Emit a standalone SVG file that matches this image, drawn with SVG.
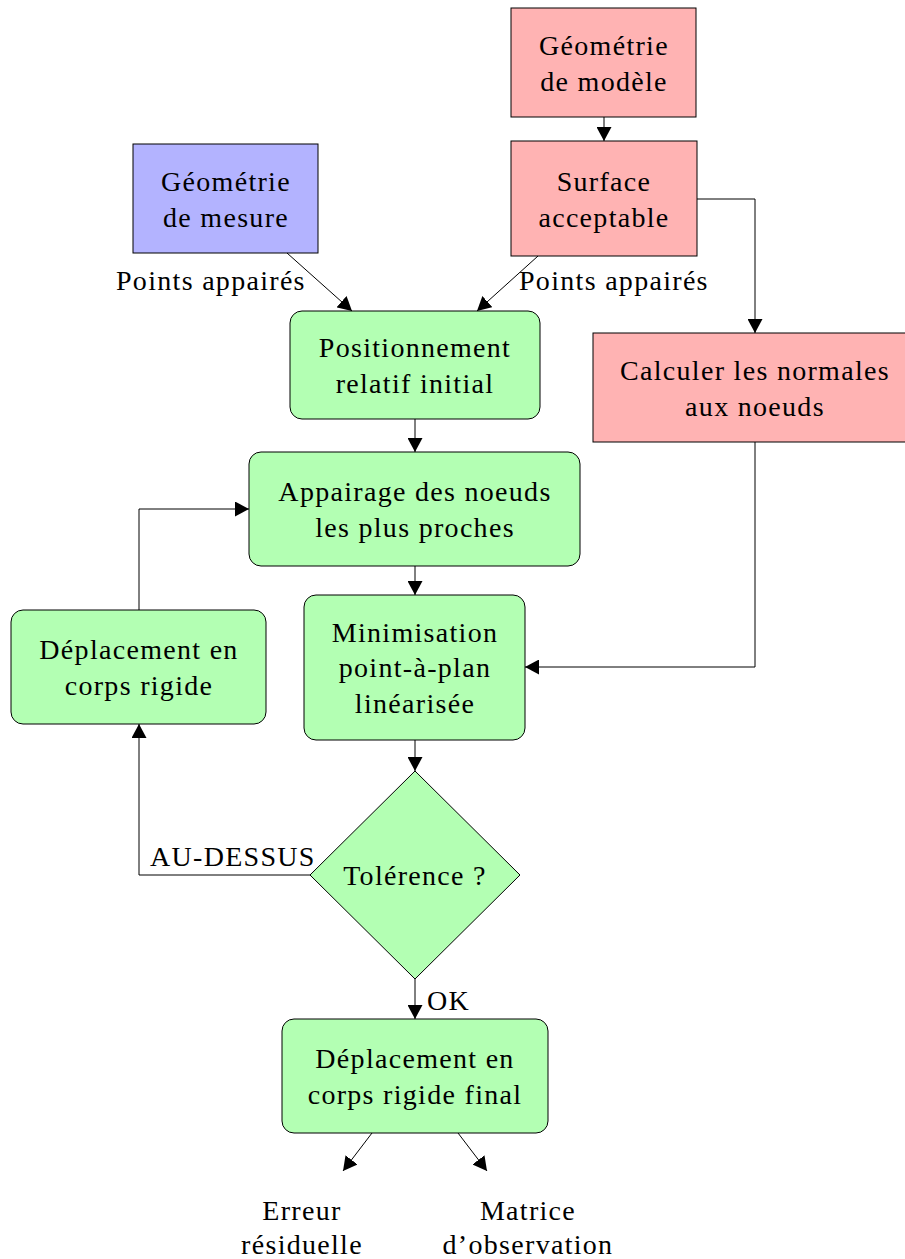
<svg xmlns="http://www.w3.org/2000/svg" width="905" height="1259" viewBox="0 0 905 1259">
<style>
text{font-family:"Liberation Serif","Times New Roman",serif;font-size:28px;letter-spacing:1.3px;fill:#000;text-anchor:middle}
.lbl{text-anchor:start}
.red{fill:#ffb3b3;stroke:#000;stroke-width:1}
.blue{fill:#b3b3ff;stroke:#000;stroke-width:1}
.green{fill:#b3ffb3;stroke:#000;stroke-width:1}
.c{fill:none;stroke:#000;stroke-width:1;marker-end:url(#ah)}
</style>
<defs>
<marker id="ah" markerUnits="userSpaceOnUse" markerWidth="15" markerHeight="15" refX="14" refY="7.5" orient="auto"><path d="M0,0 L14,7.5 L0,15 z" fill="#000"/></marker>
</defs>
<g id="modele"><rect class="red" x="511" y="8" width="185" height="109"/><text x="604" y="55">Géométrie</text><text x="604" y="91">de modèle</text></g>
<g id="surface"><rect class="red" x="511" y="141" width="186" height="115"/><text x="604" y="191">Surface</text><text x="604" y="227">acceptable</text></g>
<g id="mesure"><rect class="blue" x="133" y="144" width="185" height="109"/><text x="226" y="191">Géométrie</text><text x="226" y="227">de mesure</text></g>
<g id="positionnement"><rect class="green" x="290" y="311" width="250" height="108" rx="12"/><text x="415" y="357">Positionnement</text><text x="415" y="393">relatif initial</text></g>
<g id="normales"><rect class="red" x="593" y="333" width="314" height="109"/><text x="755" y="380">Calculer les normales</text><text x="755" y="416">aux noeuds</text></g>
<g id="appairage"><rect class="green" x="249" y="452" width="331" height="114" rx="12"/><text x="415" y="501">Appairage des noeuds</text><text x="415" y="537">les plus proches</text></g>
<g id="minimisation"><rect class="green" x="304" y="595" width="221" height="145" rx="12"/><text x="415" y="642">Minimisation</text><text x="415" y="677">point-à-plan</text><text x="415" y="713">linéarisée</text></g>
<g id="deplacement"><rect class="green" x="11" y="610" width="255" height="114" rx="12"/><text x="139" y="659">Déplacement en</text><text x="139" y="695">corps rigide</text></g>
<g id="tolerance"><polygon class="green" points="415,771 520,875 415,979 310,875"/><text x="415" y="885">Tolérence ?</text></g>
<g id="final"><rect class="green" x="282" y="1019" width="266" height="114" rx="12"/><text x="415" y="1068">Déplacement en</text><text x="415" y="1104">corps rigide final</text></g>
<g id="erreur"><text x="302" y="1220">Erreur</text><text x="302" y="1254">résiduelle</text></g>
<g id="matrice"><text x="528" y="1220">Matrice</text><text x="528" y="1254">d’observation</text></g>
<g id="connectors">
<path class="c" d="M604,117 L604,141"/>
<path class="c" d="M287,253 L352,311"/>
<path class="c" d="M538,256 L477,311"/>
<path class="c" d="M697,199 L755,199 L755,333"/>
<path class="c" d="M415,419 L415,452"/>
<path class="c" d="M415,566 L415,595"/>
<path class="c" d="M755,442 L755,667 L525,667"/>
<path class="c" d="M415,740 L415,771"/>
<path class="c" d="M310,875 L139,875 L139,724"/>
<path class="c" d="M139,610 L139,509 L249,509"/>
<path class="c" d="M415,979 L415,1019"/>
<path class="c" d="M372,1133 L343,1171"/>
<path class="c" d="M458,1133 L487,1171"/>
<text class="lbl" x="116" y="290">Points appairés</text>
<text class="lbl" x="519" y="290">Points appairés</text>
<text class="lbl" x="150" y="866">AU-DESSUS</text>
<text class="lbl" x="427" y="1010">OK</text>
</g>
</svg>
